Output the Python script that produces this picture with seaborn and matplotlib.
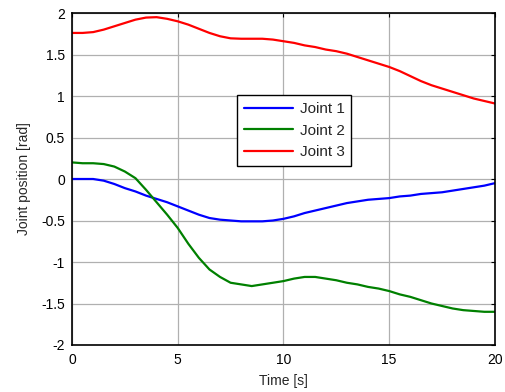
import numpy as np
import pandas as pd
import matplotlib
matplotlib.use("Agg")
import matplotlib.pyplot as plt
import seaborn as sns

time = [0, 0.5, 1, 1.5, 2, 2.5, 3, 3.5, 4, 4.5, 5, 5.5, 6, 6.5, 7, 7.5, 8, 8.5, 9, 9.5,
        10, 10.5, 11, 11.5, 12, 12.5, 13, 13.5, 14, 14.5, 15, 15.5, 16, 16.5, 17, 17.5,
        18, 18.5, 19, 19.5, 20]
joint1 = [0, 0, 0, -0.02, -0.06, -0.11, -0.15, -0.20, -0.24, -0.28, -0.33, -0.38, -0.43,
          -0.47, -0.49, -0.50, -0.51, -0.51, -0.51, -0.50, -0.48, -0.45, -0.41, -0.38, -0.35,
          -0.32, -0.29, -0.27, -0.25, -0.24, -0.23, -0.21, -0.20, -0.18, -0.17, -0.16, -0.14,
          -0.12, -0.10, -0.08, -0.05]
joint2 = [0.20, 0.19, 0.19, 0.18, 0.15, 0.09, 0.01, -0.13, -0.28, -0.43, -0.59, -0.78, -0.95,
          -1.09, -1.18, -1.25, -1.27, -1.29, -1.27, -1.25, -1.23, -1.20, -1.18, -1.18, -1.20,
          -1.22, -1.25, -1.27, -1.30, -1.32, -1.35, -1.39, -1.42, -1.46, -1.50, -1.53, -1.56,
          -1.58, -1.59, -1.60, -1.60]
joint3 = [1.76, 1.76, 1.77, 1.80, 1.84, 1.88, 1.92, 1.945, 1.95, 1.93, 1.90, 1.86, 1.81, 1.76,
          1.72, 1.695, 1.69, 1.69, 1.69, 1.68, 1.66, 1.64, 1.61, 1.59, 1.56, 1.54, 1.51, 1.47,
          1.43, 1.39, 1.35, 1.30, 1.24, 1.18, 1.13, 1.09, 1.05, 1.01, 0.97, 0.94, 0.91]
labels = ["Joint 1", "Joint 2", "Joint 3"]
colors = ["#0000ff", "#008000", "#ff0000"]
xticks = [0, 5, 10, 15, 20]
yticks = [-2, -1.5, -1, -0.5, 0, 0.5, 1, 1.5, 2]
yticklabels = ["-2", "-1.5", "-1", "-0.5", "0", "0.5", "1", "1.5", "2"]

df = pd.DataFrame({
    "Time": time * 3,
    "Value": joint1 + joint2 + joint3,
    "Joint": [labels[0]] * len(time) + [labels[1]] * len(time) + [labels[2]] * len(time),
})

sns.set_style("white")
plt.rcParams["font.family"] = ["Liberation Sans", "DejaVu Sans"]

fig = plt.figure(figsize=(5.05, 3.92), dpi=100)
ax = fig.add_axes([0.1426, 0.1199, 0.8374, 0.8469])
sns.lineplot(data=df, x="Time", y="Value", hue="Joint", palette=colors, linewidth=1.6, ax=ax)

ax.set_xlim(0, 20)
ax.set_ylim(-2, 2)
ax.set_xticks(xticks)
ax.set_yticks(yticks)
ax.set_yticklabels(yticklabels)
ax.grid(True, color="#b0b0b0", linewidth=0.9)
ax.tick_params(direction="in", length=3, width=0.8, top=True, right=True,
               labelsize=10, colors="black")
ax.tick_params(axis="x", pad=6)
ax.tick_params(axis="y", pad=5)
for s in ax.spines.values():
    s.set_color("black")
    s.set_linewidth(1.2)
ax.set_xlabel("Time [s]", fontsize=10, labelpad=5)
ax.set_ylabel("Joint position [rad]", fontsize=10, labelpad=7)

leg = ax.legend(loc="upper left", bbox_to_anchor=(0.39, 0.753), borderaxespad=0,
                fancybox=False, edgecolor="black", framealpha=1, fontsize=11,
                handlelength=3.2, handletextpad=0.45, borderpad=0.45, labelspacing=0.5)
leg.get_frame().set_linewidth(1.0)

fig.savefig("out.png", dpi=100)
